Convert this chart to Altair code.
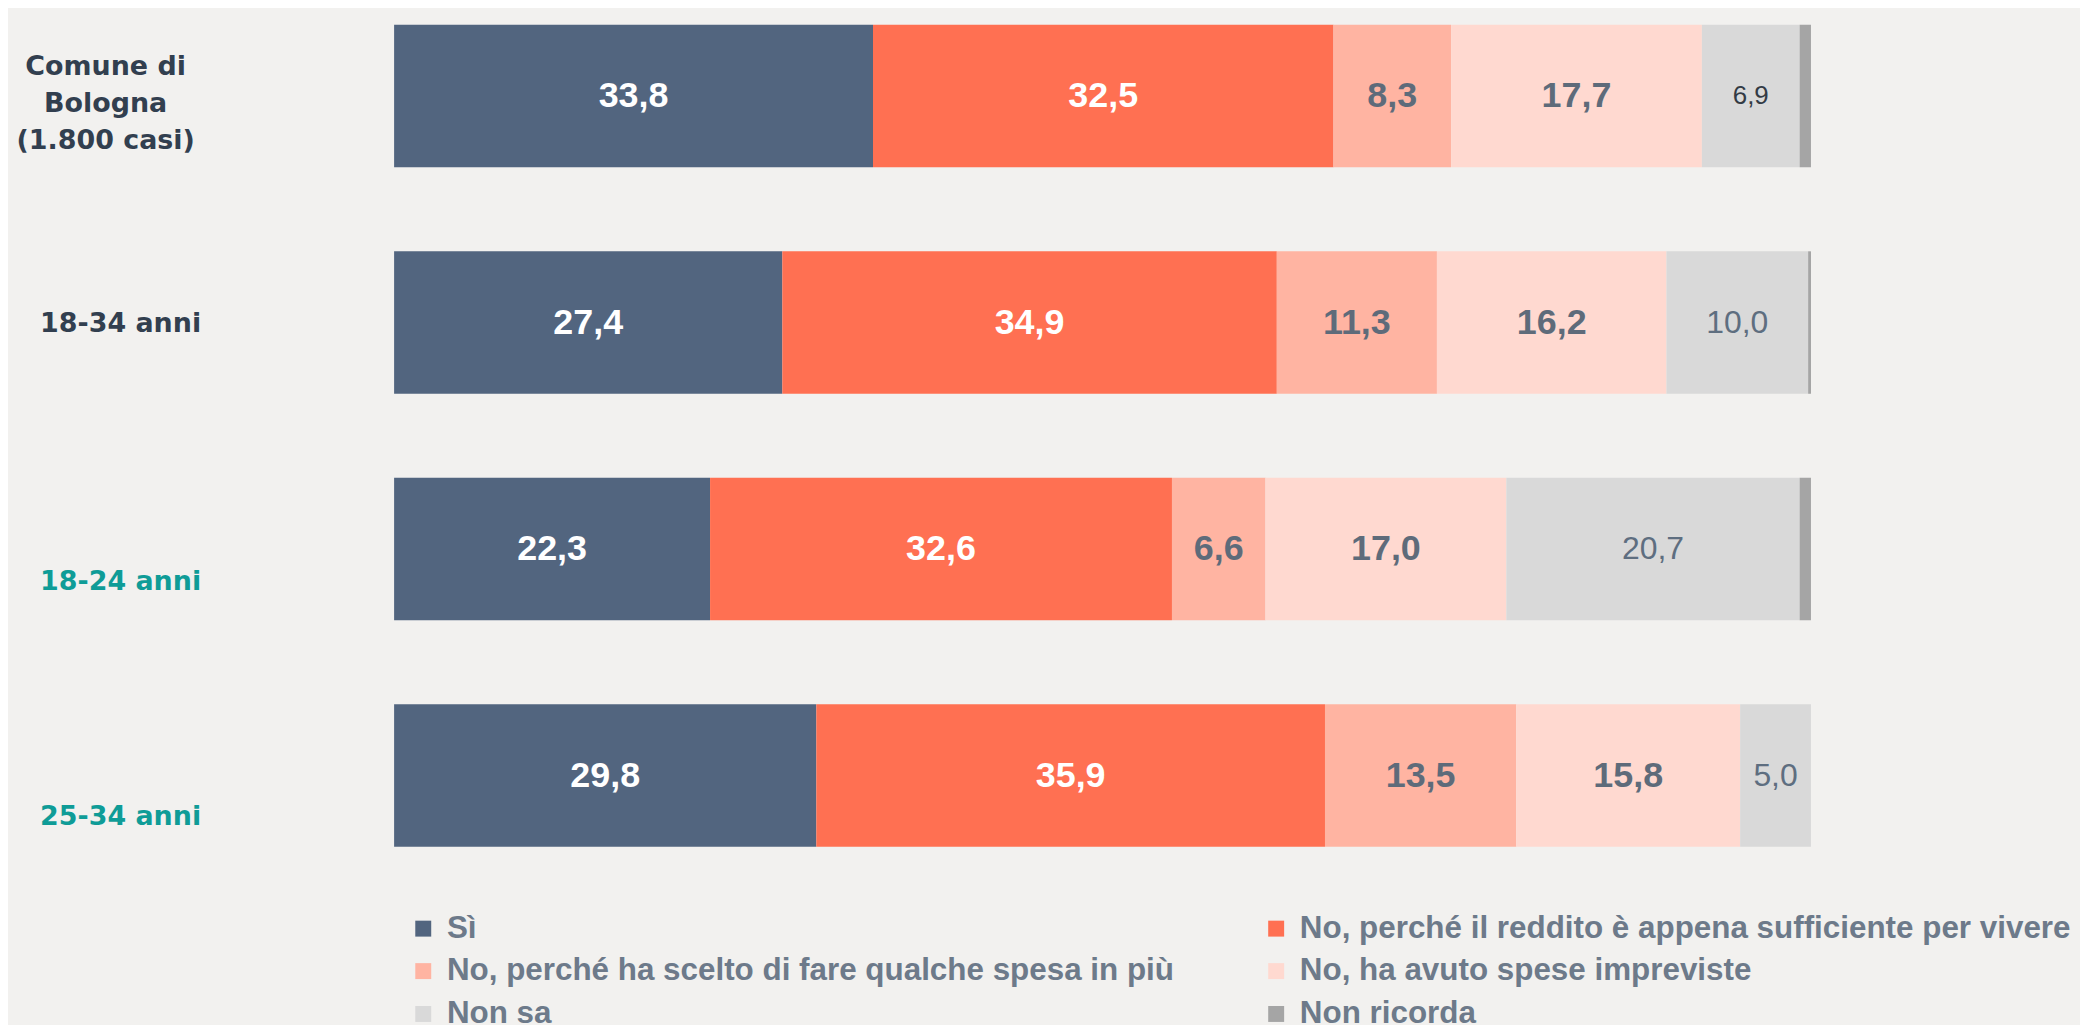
import altair as alt
import pandas as pd

categories = ["Comune di Bologna (1.800 casi)", "18-34 anni", "18-24 anni", "25-34 anni"]
series = [
    "Sì",
    "No, perché il reddito è appena sufficiente per vivere",
    "No, perché ha scelto di fare qualche spesa in più",
    "No, ha avuto spese impreviste",
    "Non sa",
    "Non ricorda",
]
si_vals = [33.8, 27.4, 22.3, 29.8]
reddito_vals = [32.5, 34.9, 32.6, 35.9]
scelto_vals = [8.3, 11.3, 6.6, 13.5]
impreviste_vals = [17.7, 16.2, 17.0, 15.8]
nonsa_vals = [6.9, 10.0, 20.7, 5.0]
nonricorda_vals = [0.8, 0.2, 0.8, 0.0]
colors = ["#52657f", "#ff7052", "#ffb4a2", "#ffd9d0", "#d9d9d9", "#a5a5a5"]

all_vals = [si_vals, reddito_vals, scelto_vals, impreviste_vals, nonsa_vals, nonricorda_vals]
rows = []
for i, cat in enumerate(categories):
    for j, s in enumerate(series):
        rows.append({"cat": cat, "series": s, "value": all_vals[j][i], "order": j, "row": i})
df = pd.DataFrame(rows)

COMUNE = categories[0]
y_axis = alt.Axis(
    title=None, domain=False, ticks=False, tickSize=0,
    labelFont="DejaVu Sans", labelFontWeight="bold", labelFontSize=27,
    labelAlign="center", labelBaseline="middle", labelLineHeight=37, labelLimit=500,
    labelExpr=f"datum.label === '{COMUNE}' ? ['Comune di', 'Bologna', '(1.800 casi)'] : datum.label",
    labelPadding={"condition": {"test": f"datum.value === '{COMUNE}'", "value": 290}, "value": 275},
    labelOffset={"condition": [
        {"test": f"datum.value === '{COMUNE}'", "value": -29},
        {"test": "datum.value === '18-34 anni'", "value": 1},
        {"test": "datum.value === '18-24 anni'", "value": 33},
    ], "value": 42},
    labelColor={"condition": {"test": "datum.value === '18-24 anni' || datum.value === '25-34 anni'",
                              "value": "#0f9c97"}, "value": "#323f4f"},
)

yenc = alt.Y("cat:N", sort=categories, scale=alt.Scale(paddingInner=0.371, paddingOuter=0), axis=y_axis)

bars = alt.Chart(df).mark_bar().encode(
    y=yenc,
    x=alt.X("value:Q", stack="zero", scale=alt.Scale(domain=[0, 100]), axis=None),
    color=alt.Color(
        "series:N", sort=series, scale=alt.Scale(domain=series, range=colors),
        legend=alt.Legend(
            title=None, orient="none", legendX=13.5, legendY=891, columns=2, direction="horizontal",
            columnPadding=86, rowPadding=10, symbolType="square", symbolSize=256,
            symbolStrokeWidth=0, symbolOpacity=1, labelFont="Liberation Sans", labelFontSize=31.5,
            labelFontWeight="bold", labelColor="#6d7a8a", labelOffset=8, labelLimit=1200, padding=0,
        ),
    ),
    order=alt.Order("order:Q"),
)

text_base = alt.Chart(df).transform_stack(
    stack="value", groupby=["cat"], as_=["x0", "x1"], sort=[alt.SortField("order")]
).transform_calculate(
    mid="(datum.x0 + datum.x1) / 2",
    lbl="replace(format(datum.value, '.1f'), '.', ',')",
).transform_filter("datum.value >= 1")

enc = dict(x=alt.X("mid:Q", scale=alt.Scale(domain=[0, 100]), axis=None), y=yenc, text="lbl:N")

t_white = text_base.transform_filter("datum.order <= 1").mark_text(
    font="Liberation Sans", fontSize=36, fontWeight="bold", color="#ffffff", baseline="middle"
).encode(**enc)
t_gray = text_base.transform_filter("datum.order == 2 || datum.order == 3").mark_text(
    font="Liberation Sans", fontSize=36, fontWeight="bold", color="#5e6b7a", baseline="middle"
).encode(**enc)
t_ns1 = text_base.transform_filter("datum.order == 4 && datum.row == 0").mark_text(
    font="Liberation Sans", fontSize=26, color="#333b45", baseline="middle"
).encode(**enc)
t_ns = text_base.transform_filter("datum.order == 4 && datum.row > 0").mark_text(
    font="Liberation Sans", fontSize=32, color="#5e6e80", baseline="middle"
).encode(**enc)

chart = alt.layer(bars, t_white, t_gray, t_ns1, t_ns).properties(
    width=1422, height=825,
    background="#f2f1ef",
    padding={"left": 387.5, "top": 15, "right": 270, "bottom": 180},
    autosize=alt.AutoSizeParams(type="none"),
).configure_view(stroke=None)

chart.save("out.html", embed_options={"renderer": "svg", "actions": False})
